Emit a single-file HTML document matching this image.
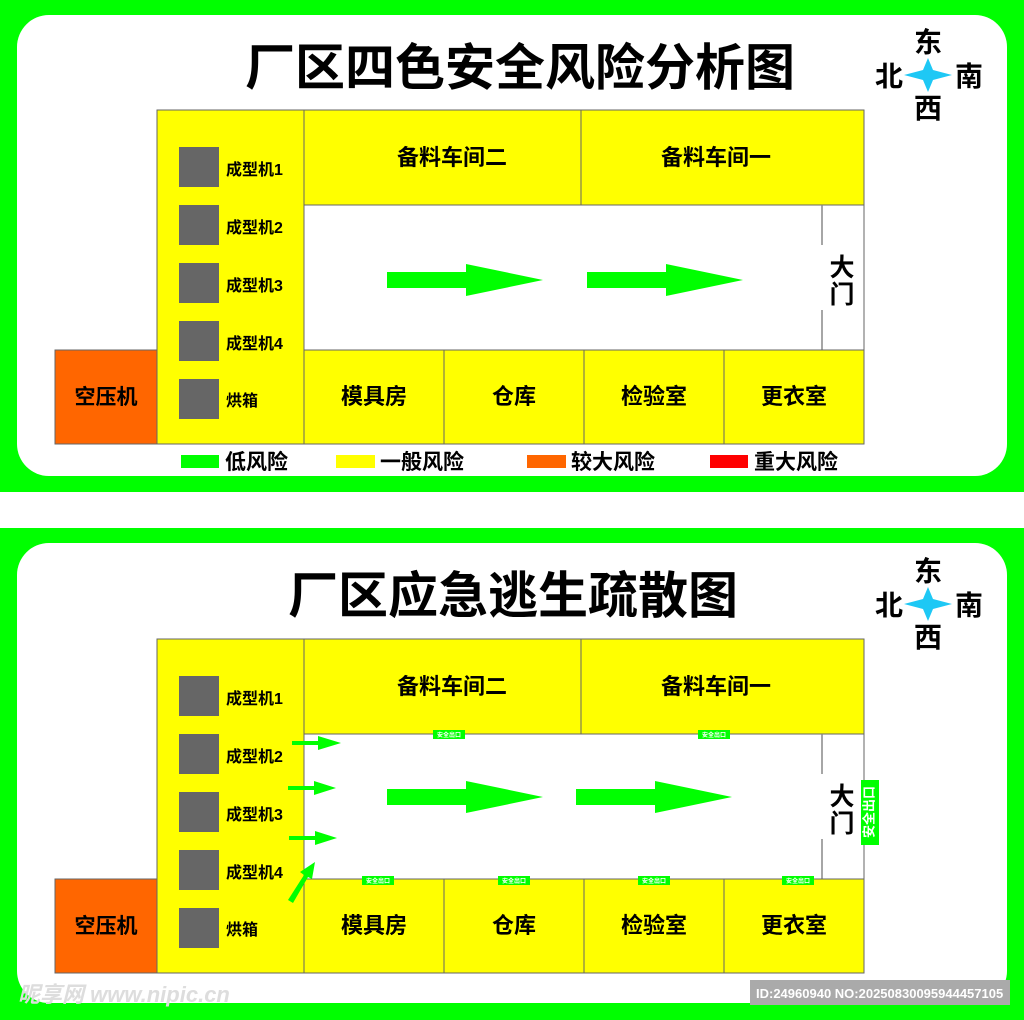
<!DOCTYPE html>
<html><head><meta charset="utf-8"><style>
html,body{margin:0;padding:0;background:#fff}
svg{display:block}
text{font-family:"Liberation Sans","Noto Sans CJK SC",sans-serif;font-weight:bold}
</style></head><body>
<svg width="1024" height="1020" viewBox="0 0 1024 1020" xmlns="http://www.w3.org/2000/svg">
<defs>
<g id="compass">
  <text x="928" y="52" font-size="28" text-anchor="middle">东</text>
  <text x="928" y="118" font-size="28" text-anchor="middle">西</text>
  <text x="889" y="86" font-size="28" text-anchor="middle">北</text>
  <text x="969" y="86" font-size="28" text-anchor="middle">南</text>
  <path d="M928 58 L933 70 L952 75 L933 80 L928 92 L923 80 L904 75 L923 70 Z" fill="#1ec8f5"/>
</g>
<g id="plan">
  <rect x="55" y="350" width="102" height="94" fill="#ff6600" stroke="#666" stroke-width="1"/>
  <text x="106" y="404" font-size="21" text-anchor="middle">空压机</text>
  <rect x="157" y="110" width="147" height="334" fill="#ffff00" stroke="#666" stroke-width="1"/>
  <rect x="304" y="110" width="277" height="95" fill="#ffff00" stroke="#666" stroke-width="1"/>
  <rect x="581" y="110" width="283" height="95" fill="#ffff00" stroke="#666" stroke-width="1"/>
  <text x="452" y="165" font-size="22" text-anchor="middle">备料车间二</text>
  <text x="716" y="165" font-size="22" text-anchor="middle">备料车间一</text>
  <rect x="304" y="205" width="560" height="145" fill="#fff" stroke="#666" stroke-width="1"/>
  <line x1="822" y1="205" x2="822" y2="245" stroke="#888" stroke-width="1.5"/>
  <line x1="822" y1="310" x2="822" y2="350" stroke="#888" stroke-width="1.5"/>
  <rect x="304" y="350" width="140" height="94" fill="#ffff00" stroke="#666" stroke-width="1"/>
  <rect x="444" y="350" width="140" height="94" fill="#ffff00" stroke="#666" stroke-width="1"/>
  <rect x="584" y="350" width="140" height="94" fill="#ffff00" stroke="#666" stroke-width="1"/>
  <rect x="724" y="350" width="140" height="94" fill="#ffff00" stroke="#666" stroke-width="1"/>
  <text x="374" y="404" font-size="22" text-anchor="middle">模具房</text>
  <text x="514" y="404" font-size="22" text-anchor="middle">仓库</text>
  <text x="654" y="404" font-size="22" text-anchor="middle">检验室</text>
  <text x="794" y="404" font-size="22" text-anchor="middle">更衣室</text>
  <text x="842" y="276" font-size="25" text-anchor="middle">大</text>
  <text x="842" y="303" font-size="25" text-anchor="middle">门</text>
  <g fill="#666">
    <rect x="179" y="147" width="40" height="40"/>
    <rect x="179" y="205" width="40" height="40"/>
    <rect x="179" y="263" width="40" height="40"/>
    <rect x="179" y="321" width="40" height="40"/>
    <rect x="179" y="379" width="40" height="40"/>
  </g>
  <g font-size="16">
    <text x="226" y="175">成型机1</text>
    <text x="226" y="233">成型机2</text>
    <text x="226" y="291">成型机3</text>
    <text x="226" y="349">成型机4</text>
    <text x="226" y="406">烘箱</text>
  </g>
</g>
</defs>

<!-- panel 1 -->
<rect x="0" y="0" width="1024" height="492" fill="#00ff00"/>
<rect x="17" y="15" width="990" height="461" rx="32" fill="#fff"/>
<text x="520" y="85" font-size="50" text-anchor="middle">厂区四色安全风险分析图</text>
<use href="#compass"/>
<use href="#plan"/>
<path d="M387 272 H466 V264 L543 280 L466 296 V288 H387 Z" fill="#00ff00"/>
<path d="M587 272 H666 V264 L743 280 L666 296 V288 H587 Z" fill="#00ff00"/>
<rect x="181" y="455" width="38" height="13" fill="#00ff00"/>
<text x="225" y="469" font-size="21">低风险</text>
<rect x="336" y="455" width="39" height="13" fill="#ffff00"/>
<text x="380" y="469" font-size="21">一般风险</text>
<rect x="527" y="455" width="39" height="13" fill="#ff6600"/>
<text x="571" y="469" font-size="21">较大风险</text>
<rect x="710" y="455" width="38" height="13" fill="#ff0000"/>
<text x="754" y="469" font-size="21">重大风险</text>

<!-- panel 2 -->
<rect x="0" y="528" width="1024" height="492" fill="#00ff00"/>
<rect x="17" y="543" width="990" height="460" rx="32" fill="#fff"/>
<text x="513" y="613" font-size="50" text-anchor="middle">厂区应急逃生疏散图</text>
<g transform="translate(0,529)"><use href="#compass"/><use href="#plan"/></g>
<path d="M387 789 H466 V781 L543 797 L466 813 V805 H387 Z" fill="#00ff00"/>
<path d="M576 789 H655 V781 L732 797 L655 813 V805 H576 Z" fill="#00ff00"/>
<g fill="#00ff00">
  <path d="M292 741 H318 V736 L341 743 L318 750 V745 H292 Z"/>
  <path d="M288 786 H314 V781 L336 788 L314 795 V790 H288 Z"/>
  <path d="M289 836 H315 V831 L337 838 L315 845 V840 H289 Z"/>
  <path d="M288 900 L304 875 L300 872 L315 862 L312 879 L308 877 L293 903 Z"/>
</g>
<g font-size="6" fill="#fff" text-anchor="middle">
  <rect x="433" y="730" width="32" height="9" fill="#00ff00"/><text x="449" y="737">安全出口</text>
  <rect x="698" y="730" width="32" height="9" fill="#00ff00"/><text x="714" y="737">安全出口</text>
  <rect x="362" y="876" width="32" height="9" fill="#00ff00"/><text x="378" y="883">安全出口</text>
  <rect x="498" y="876" width="32" height="9" fill="#00ff00"/><text x="514" y="883">安全出口</text>
  <rect x="638" y="876" width="32" height="9" fill="#00ff00"/><text x="654" y="883">安全出口</text>
  <rect x="782" y="876" width="32" height="9" fill="#00ff00"/><text x="798" y="883">安全出口</text>
</g>
<rect x="861" y="780" width="18" height="65" fill="#00ff00"/>
<text x="870" y="812" font-size="13" fill="#fff" text-anchor="middle" dominant-baseline="middle" transform="rotate(-90 870 812)">安全出口</text>

<!-- watermark -->
<text x="18" y="1002" font-size="22" fill="#ddd" font-style="italic">昵享网 www.nipic.cn</text>
<rect x="750" y="980" width="260" height="25" fill="#aaa"/>
<text x="756" y="998" font-size="13" fill="#fff" font-weight="normal">ID:24960940 NO:20250830095944457105</text>
</svg>
</body></html>
